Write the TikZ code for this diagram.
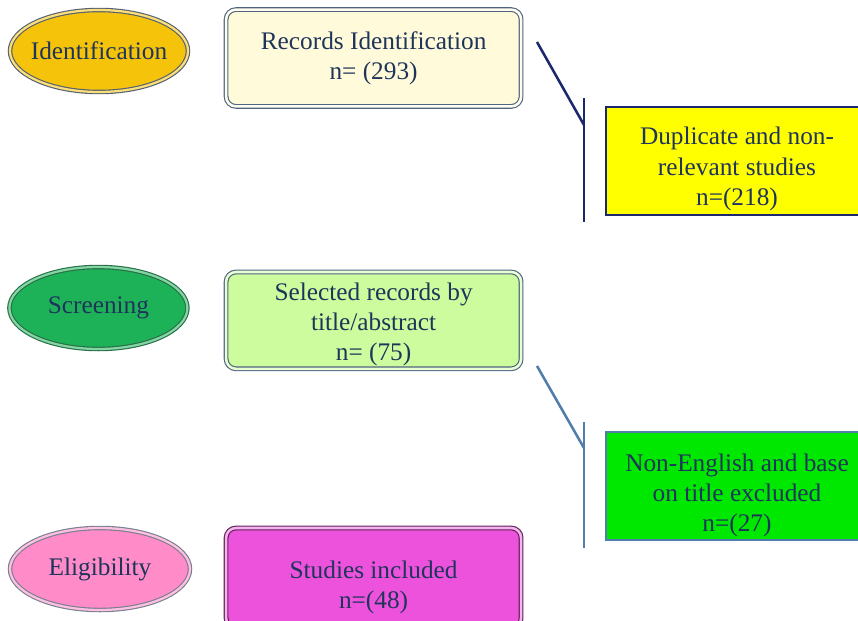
\documentclass[tikz,border=0pt]{standalone}
\usepackage{fontspec}
\setmainfont{Liberation Serif}
\usetikzlibrary{positioning, shapes.geometric, calc}

\definecolor{inknavy}{RGB}{31,52,90}
\definecolor{idgold}{RGB}{245,196,10}
\definecolor{idrim}{RGB}{85,95,115}
\definecolor{idcream}{RGB}{255,251,218}
\definecolor{scgreen}{RGB}{30,178,88}
\definecolor{scrim}{RGB}{40,110,70}
\definecolor{sclight}{RGB}{204,252,158}
\definecolor{elpink}{RGB}{255,140,200}
\definecolor{elmagenta}{RGB}{236,82,220}
\definecolor{boxrim}{RGB}{80,100,130}
\definecolor{dupyellow}{RGB}{255,255,0}
\definecolor{dupnavy}{RGB}{28,40,110}
\definecolor{exgreen}{RGB}{0,232,0}
\definecolor{exsteel}{RGB}{80,125,170}

\tikzset{
    flow_stage/.style={
        ellipse,
        draw=idrim,
        line width=0.8pt,
        double=white!45!#1,
        double distance=1.6pt,
        fill=#1,
        minimum width=4.45cm,
        minimum height=2.05cm,
        inner xsep=-8pt,
        inner ysep=0pt,
        align=center
    },
    flow_record/.style={
        rectangle,
        rounded corners=7pt,
        draw=boxrim,
        line width=0.8pt,
        double=white!55!#1,
        double distance=1.8pt,
        fill=#1,
        minimum width=7.375cm,
        minimum height=2.42cm,
        inner ysep=1pt,
        align=center
    },
    flow_excluded/.style={
        rectangle,
        draw=#1,
        line width=1.3pt,
        minimum width=6.55cm,
        minimum height=2.7cm,
        inner ysep=1pt,
        align=center
    },
    flow_link/.style={
        line width=1.8pt
    }
}

\begin{document}
\begin{tikzpicture}[every node/.style={font=\fontsize{18}{21.5}\selectfont, text=inknavy}]

\useasboundingbox (0,0) rectangle (21.45,-15.5);

% Stages
\node[flow_stage=idgold] (Identification) at (2.475,-1.275) {Identification};
\node[flow_stage=scgreen, draw=scrim] (Screening) at (2.46,-7.7) {Screening};
\node[flow_stage=elpink, draw=idrim!80, minimum width=4.5cm] (Eligibility) at (2.5,-14.225) {Eligibility};

% Records
\node[flow_record=idcream] (RecordsId) at (9.34,-1.45)
  {Records Identification\\n= (293)};
\node[flow_record=sclight] (Selected) at (9.34,-8.01)
  {\rule{0pt}{18pt}Selected records by\\title/abstract\\n= (75)};
\node[flow_record=elmagenta, draw=elmagenta!40!black, minimum height=2.5cm] (Included) at (9.34,-14.45)
  {\rule{0pt}{26pt}Studies included\\n=(48)};

% Excluded
\node[flow_excluded=dupnavy, fill=dupyellow] (Duplicate) at (18.425,-4.025)
  {\rule{0pt}{24pt}Duplicate and non-\\relevant studies\\n=(218)};
\node[flow_excluded=exsteel, fill=exgreen] (NonEnglish) at (18.425,-12.14)
  {\rule{0pt}{26.5pt}Non-English and base\\on title excluded\\n=(27)};

% Connectors
\coordinate (dupStart) at (13.425,-1.05);
\coordinate (dupTop) at (14.6,-2.45);
\coordinate (dupJoin) at (14.6,-3.125);
\coordinate (dupBottom) at (14.6,-5.55);
\coordinate (nonStart) at (13.425,-9.15);
\coordinate (nonTop) at (14.6,-10.55);
\coordinate (nonJoin) at (14.6,-11.2);
\coordinate (nonBottom) at (14.6,-13.7);

\draw[flow_link, draw=dupnavy] (dupStart) -- (dupJoin);
\draw[flow_link, draw=dupnavy] (dupTop) -- (dupBottom);
\draw[flow_link, draw=exsteel] (nonStart) -- (nonJoin);
\draw[flow_link, draw=exsteel] (nonTop) -- (nonBottom);

\end{tikzpicture}
\end{document}
